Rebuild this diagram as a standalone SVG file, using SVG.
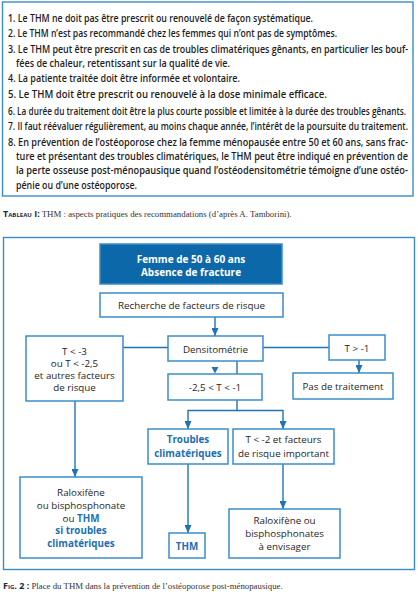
<svg xmlns="http://www.w3.org/2000/svg" width="418" height="600" viewBox="0 0 418 600">
<defs>
<marker id="arr" viewBox="0 0 8 7" refX="8" refY="3.5" markerWidth="8" markerHeight="7" markerUnits="userSpaceOnUse" orient="auto">
<path d="M0,0 L8,3.5 L0,7 Z" fill="#1f74b6"/>
</marker>
<style>
.frame{fill:none;stroke:#3b8dc9;stroke-width:1.4}
.box{fill:#fff;stroke:#3b8dc9;stroke-width:1.5}
.dark{fill:#0d68aa;stroke:#3b8dc9;stroke-width:1.5}
.ln{fill:none;stroke:#1f74b6;stroke-width:1.4}
.tab{font-family:"Open Sans","Noto Sans",sans-serif;font-size:9.8px;font-weight:600;fill:#1e1e1e}
.t{font-family:"Open Sans","Noto Sans",sans-serif;font-size:9.8px;fill:#262626;text-anchor:middle}
.tb{font-family:"Open Sans","Noto Sans",sans-serif;font-size:9.8px;font-weight:700;fill:#1c6fb2;text-anchor:middle}
.tw{font-family:"Open Sans","Noto Sans",sans-serif;font-size:10px;font-weight:700;fill:#fff;text-anchor:middle}
.capl{font-family:"Open Sans","Noto Sans",sans-serif;font-size:9px;font-weight:700;fill:#1a2a3c;font-variant:small-caps}
.caps{font-family:"Liberation Serif",serif;font-size:8.8px;fill:#333}
</style>
</defs>
<rect width="418" height="600" fill="#fff"/>

<g id="tableau">
<rect class="frame" x="2.5" y="2" width="410.5" height="194"/>
<text class="tab" x="8" y="21.5" textLength="305" lengthAdjust="spacingAndGlyphs">1. Le THM ne doit pas être prescrit ou renouvelé de façon systématique.</text>
<text class="tab" x="8" y="37" textLength="329" lengthAdjust="spacingAndGlyphs">2. Le THM n’est pas recommandé chez les femmes qui n’ont pas de symptômes.</text>
<text class="tab" x="8" y="52.5" textLength="400" lengthAdjust="spacingAndGlyphs">3. Le THM peut être prescrit en cas de troubles climatériques gênants, en particulier les bouf-</text>
<text class="tab" x="16" y="66.5" textLength="214" lengthAdjust="spacingAndGlyphs">fées de chaleur, retentissant sur la qualité de vie.</text>
<text class="tab" x="8" y="82" textLength="232" lengthAdjust="spacingAndGlyphs">4. La patiente traitée doit être informée et volontaire.</text>
<text class="tab" x="8" y="98" textLength="319" lengthAdjust="spacingAndGlyphs">5. Le THM doit être prescrit ou renouvelé à la dose minimale efficace.</text>
<text class="tab" x="8" y="115" textLength="398" lengthAdjust="spacingAndGlyphs">6. La durée du traitement doit être la plus courte possible et limitée à la durée des troubles gênants.</text>
<text class="tab" x="8" y="130" textLength="400" lengthAdjust="spacingAndGlyphs">7. Il faut réévaluer régulièrement, au moins chaque année, l’intérêt de la poursuite du traitement.</text>
<text class="tab" x="8" y="146" textLength="400" lengthAdjust="spacingAndGlyphs">8. En prévention de l’ostéoporose chez la femme ménopausée entre 50 et 60 ans, sans frac-</text>
<text class="tab" x="16" y="160" textLength="392" lengthAdjust="spacingAndGlyphs">ture et présentant des troubles climatériques, le THM peut être indiqué en prévention de</text>
<text class="tab" x="16" y="174" textLength="392" lengthAdjust="spacingAndGlyphs">la perte osseuse post-ménopausique quand l’ostéodensitométrie témoigne d’une ostéo-</text>
<text class="tab" x="16" y="189" textLength="121" lengthAdjust="spacingAndGlyphs">pénie ou d’une ostéoporose.</text>
</g>
<text x="3" y="217"><tspan class="capl">Tableau I:</tspan><tspan class="caps"> THM : aspects pratiques des recommandations (d’après A. Tamborini).</tspan></text>

<rect class="frame" x="3.5" y="237.5" width="411" height="332"/>

<g id="connectors">
<line class="ln" x1="215" y1="317" x2="215" y2="336" marker-end="url(#arr)"/>
<line class="ln" x1="123" y1="347.5" x2="168" y2="347.5"/>
<line class="ln" x1="263" y1="347.5" x2="329" y2="347.5"/>
<line class="ln" x1="359" y1="360" x2="359" y2="373" marker-end="url(#arr)"/>
<line class="ln" x1="237" y1="361" x2="237" y2="374"/>
<path d="M211.5,367 L218.5,367 L215,373.5 Z" fill="#1f74b6"/>
<polyline class="ln" points="237,400 237,410.5 188,410.5 188,429" marker-end="url(#arr)"/>
<polyline class="ln" points="237,410.5 283,410.5 283,429" marker-end="url(#arr)"/>
<line class="ln" x1="75" y1="401" x2="75" y2="477" marker-end="url(#arr)"/>
<line class="ln" x1="188" y1="464" x2="188" y2="533" marker-end="url(#arr)"/>
<line class="ln" x1="283" y1="464" x2="283" y2="509" marker-end="url(#arr)"/>
</g>

<g id="n-femme">
<rect class="dark" x="100" y="244" width="182" height="40"/>
<text class="tw" x="191" y="262.5">Femme de 50 à 60 ans</text>
<text class="tw" x="191" y="275.5">Absence de fracture</text>
</g>
<g id="n-recherche">
<rect class="box" x="100" y="293" width="183" height="24"/>
<text class="t" x="191.5" y="309">Recherche de facteurs de risque</text>
</g>
<g id="n-tlt3">
<rect class="box" x="26" y="336" width="97" height="65"/>
<text class="t" x="74.5" y="354.5">T  &lt; -3</text>
<text class="t" x="74.5" y="366.5">ou T &lt; -2,5</text>
<text class="t" x="74.5" y="378.5">et autres facteurs</text>
<text class="t" x="74.5" y="390.5">de risque</text>
</g>
<g id="n-densito">
<rect class="box" x="168" y="336" width="95" height="25"/>
<text class="t" x="215.5" y="352.5">Densitométrie</text>
</g>
<g id="n-tgt1">
<rect class="box" x="329" y="335" width="56" height="25"/>
<text class="t" x="357" y="351.5">T &gt; -1</text>
</g>
<g id="n-pas">
<rect class="box" x="293" y="373" width="100" height="26"/>
<text class="t" x="343" y="390">Pas de traitement</text>
</g>
<g id="n-mid">
<rect class="box" x="168" y="374" width="94" height="26"/>
<text class="t" x="215" y="391">-2,5 &lt; T &lt; -1</text>
</g>
<g id="n-troubles">
<rect class="box" x="148" y="429" width="80" height="35"/>
<text class="tb" x="188" y="442.5">Troubles</text>
<text class="tb" x="188" y="456.5">climatériques</text>
</g>
<g id="n-tlt2">
<rect class="box" x="233" y="429" width="101" height="35"/>
<text class="t" x="283.5" y="442.5">T &lt; -2 et facteurs</text>
<text class="t" x="283.5" y="456.5">de risque important</text>
</g>
<g id="n-ralox1">
<rect class="box" x="20" y="477" width="122" height="81"/>
<text class="t" x="81" y="495.5">Raloxifène</text>
<text class="t" x="81" y="508.5">ou bisphosphonate</text>
<text class="t" x="81" y="521.5">ou <tspan style="font-weight:700;fill:#1c6fb2">THM</tspan></text>
<text class="tb" x="81" y="533.5">si troubles</text>
<text class="tb" x="81" y="546.5">climatériques</text>
</g>
<g id="n-thm">
<rect class="box" x="169" y="533" width="36" height="25"/>
<text class="tb" x="187" y="550">THM</text>
</g>
<g id="n-ralox2">
<rect class="box" x="229" y="509" width="111" height="49"/>
<text class="t" x="284.5" y="523.5">Raloxifène ou</text>
<text class="t" x="284.5" y="536.5">bisphosphonates</text>
<text class="t" x="284.5" y="549.5">à envisager</text>
</g>
<text x="3" y="589"><tspan class="capl">Fig. 2 :</tspan><tspan class="caps"> Place du THM dans la prévention de l’ostéoporose post-ménopausique.</tspan></text>
</svg>
